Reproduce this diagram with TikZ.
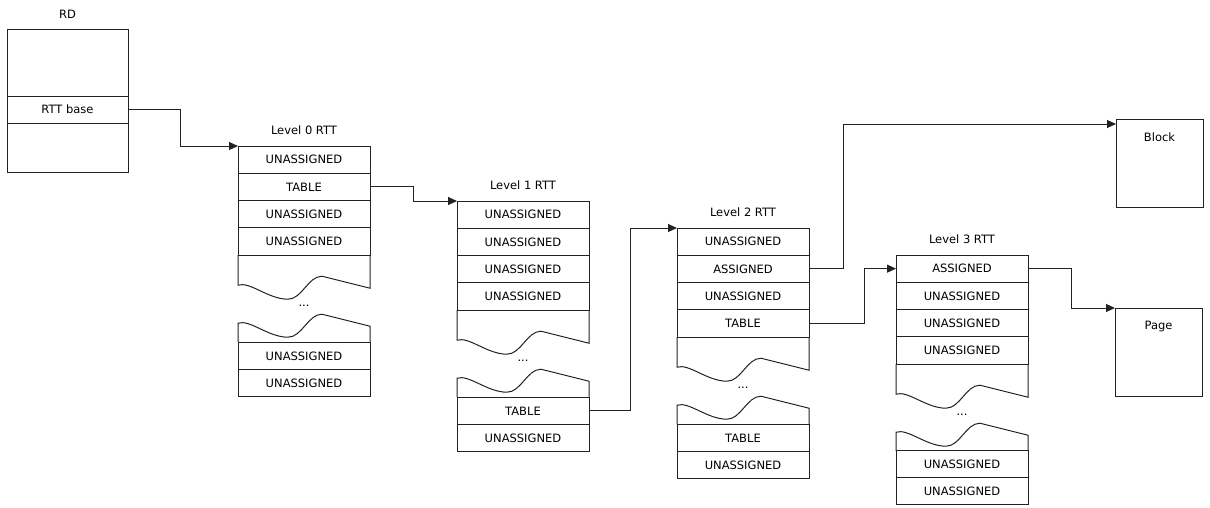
\documentclass[tikz,border=0pt]{standalone}
\usepackage{fontspec}
\setmainfont{DejaVu Sans}
\usepackage{tikz}
\usetikzlibrary{arrows.meta, positioning}
\definecolor{rline}{HTML}{222222}
\tikzset{
  cell/.style={draw=rline, line width=1pt, minimum width=132pt, minimum height=27.3pt,
               inner sep=0pt, outer sep=0pt},
  rdcell/.style={draw=rline, line width=1pt, minimum width=121pt, inner sep=0pt, outer sep=0pt},
  outbox/.style={draw=rline, line width=1pt, minimum width=87pt, minimum height=88pt,
                 inner sep=0pt, outer sep=0pt},
  title/.style={inner sep=3.7pt},
  tear/.style={draw=rline, line width=1pt},
  link/.style={-{Triangle[length=9pt,width=8pt]}, draw=rline, line width=1pt},
}
% torn-off part between the upper and lower rows of a table
\newcommand{\rttgap}[1]{%
  \begin{scope}[shift={(#1.south west)}]
    \draw[tear] (0,0) -- (0,30) .. controls (12,26) and (30,44) .. (50,44)
      .. controls (64,44) and (70,21) .. (84,21) -- (132,33) -- (132,0);
    \node at (66,51) {...};
    \draw[tear] (0,87) -- (0,68) .. controls (12,64) and (30,82) .. (50,82)
      .. controls (64,82) and (70,59) .. (84,59) -- (132,71) -- (132,87);
  \end{scope}}

\begin{document}
\begin{tikzpicture}[x=1pt, y=-1pt, every node/.style={font=\fontsize{11.5}{13}\selectfont}]
  \useasboundingbox (0,0) rectangle (1210,507);

  % RD
  \node[rdcell, minimum height=67pt, anchor=north west] (rd1) at (7,29) {};
  \node[rdcell, minimum height=27pt, below=0pt of rd1] (rd2) {RTT base};
  \node[rdcell, minimum height=49pt, below=0pt of rd2] (rd3) {};
  \node[title, above=7pt of rd1] (rdt) {RD};

  % Level 0 RTT
  \node[cell, anchor=north west] (l0r1) at (238,146) {UNASSIGNED};
  \node[cell, below=0pt of l0r1] (l0r2) {TABLE};
  \node[cell, below=0pt of l0r2] (l0r3) {UNASSIGNED};
  \node[cell, below=0pt of l0r3] (l0r4) {UNASSIGNED};
  \node[cell, below=87pt of l0r4] (l0r5) {UNASSIGNED};
  \node[cell, below=0pt of l0r5] (l0r6) {UNASSIGNED};
  \node[title, above=7pt of l0r1] (l0t) {Level 0 RTT};
  \rttgap{l0r4}

  % Level 1 RTT
  \node[cell, anchor=north west] (l1r1) at (457,201) {UNASSIGNED};
  \node[cell, below=0pt of l1r1] (l1r2) {UNASSIGNED};
  \node[cell, below=0pt of l1r2] (l1r3) {UNASSIGNED};
  \node[cell, below=0pt of l1r3] (l1r4) {UNASSIGNED};
  \node[cell, below=87pt of l1r4] (l1r5) {TABLE};
  \node[cell, below=0pt of l1r5] (l1r6) {UNASSIGNED};
  \node[title, above=7pt of l1r1] (l1t) {Level 1 RTT};
  \rttgap{l1r4}

  % Level 2 RTT
  \node[cell, anchor=north west] (l2r1) at (677,228) {UNASSIGNED};
  \node[cell, below=0pt of l2r1] (l2r2) {ASSIGNED};
  \node[cell, below=0pt of l2r2] (l2r3) {UNASSIGNED};
  \node[cell, below=0pt of l2r3] (l2r4) {TABLE};
  \node[cell, below=87pt of l2r4] (l2r5) {TABLE};
  \node[cell, below=0pt of l2r5] (l2r6) {UNASSIGNED};
  \node[title, above=7pt of l2r1] (l2t) {Level 2 RTT};
  \rttgap{l2r4}

  % Level 3 RTT
  \node[cell, anchor=north west] (l3r1) at (896,255) {ASSIGNED};
  \node[cell, below=0pt of l3r1] (l3r2) {UNASSIGNED};
  \node[cell, below=0pt of l3r2] (l3r3) {UNASSIGNED};
  \node[cell, below=0pt of l3r3] (l3r4) {UNASSIGNED};
  \node[cell, below=86pt of l3r4] (l3r5) {UNASSIGNED};
  \node[cell, below=0pt of l3r5] (l3r6) {UNASSIGNED};
  \node[title, above=7pt of l3r1] (l3t) {Level 3 RTT};
  \rttgap{l3r4}

  % output blocks
  \node[outbox, anchor=north west, label={[anchor=north, yshift=-10pt]north:Block}] (block) at (1116,119) {};
  \node[outbox, anchor=north west, label={[anchor=north, yshift=-10pt]north:Page}] (page) at (1115,308) {};

  % walk
  \draw[link] (rd2.east) -- ++(52,0) |- (l0r1.north west);
  \draw[link] (l0r2.east) -- ++(43,0) |- (l1r1.north west);
  \draw[link] (l1r5.east) -- ++(41,0) |- (l2r1.north west);
  \draw[link] (l2r2.east) -- ++(34,0) |- ([yshift=-5pt]block.north west);
  \draw[link] (l2r4.east) -- ++(55,0) |- (l3r1.west);
  \draw[link] (l3r1.east) -- ++(43,0) |- (page.north west);
\end{tikzpicture}
\end{document}
